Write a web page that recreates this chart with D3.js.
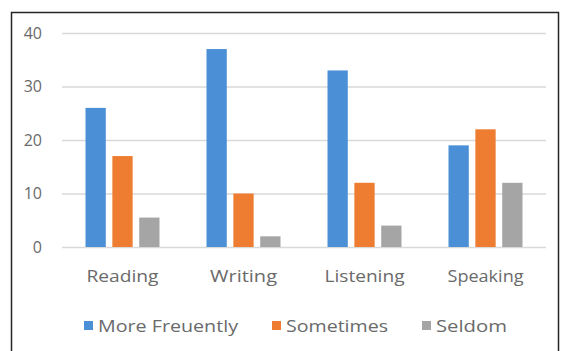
<!DOCTYPE html>
<html><head><meta charset="utf-8">
<script src="https://cdn.jsdelivr.net/npm/d3@7"></script>
<style>
html,body{margin:0;padding:0;background:#fff;}
svg{display:block;}
text{font-family:"Open Sans",Lato,sans-serif;fill:#6a6a6a;}
</style></head>
<body>
<script>
const categories = ["Reading","Writing","Listening","Speaking"];
const seriesNames = ["More Freuently","Sometimes","Seldom"];
const moreFrequently = [26,37,33,19];
const sometimes = [17,10,12,22];
const seldom = [5.5,2,4,12];
const yTicks = [0,10,20,30,40];
const colors = ["#4b8fd6","#ee7d31","#a5a5a5"];

const W=562,H=351;
const svg=d3.select("body").append("svg").attr("width",W).attr("height",H);
svg.append("rect").attr("width",W).attr("height",H).attr("fill","#fff");
// frame (no bottom border)
svg.append("path").attr("d","M11.5,351 V12.5 H558.5 V351").attr("fill","none").attr("stroke","#262626").attr("stroke-width",1.5);

const x0=d3.scaleBand().domain(categories).range([62,546]).padding(0);
const gw=74;
const x1=d3.scaleBand().domain(seriesNames).range([(x0.bandwidth()-gw)/2,(x0.bandwidth()+gw)/2]).paddingInner(0.245).paddingOuter(0);
const y=d3.scaleLinear().domain([0,40]).range([247,33]);

// grid
const yAxis=d3.axisLeft(y).tickValues(yTicks).tickSize(-(546-62)).tickPadding(20).tickFormat(d3.format("d"));
const ga=svg.append("g").attr("transform","translate(62,0)").call(yAxis);
ga.select(".domain").remove();
ga.selectAll(".tick line").attr("stroke","#d9d9d9").attr("stroke-width",1.3);
ga.selectAll(".tick text").attr("font-size",16).attr("fill","#6a6a6a").attr("x",-20).style("font-family","'Open Sans',sans-serif");

const values=[moreFrequently,sometimes,seldom];
const data=categories.map((c,i)=>({cat:c,vals:seriesNames.map((s,j)=>({s,v:values[j][i],c:colors[j]}))}));
const g=svg.selectAll("g.cat").data(data).enter().append("g").attr("class","cat").attr("transform",d=>`translate(${x0(d.cat)},0)`);
g.selectAll("rect").data(d=>d.vals).enter().append("rect")
 .attr("x",d=>x1(d.s)).attr("width",x1.bandwidth())
 .attr("y",d=>y(d.v)).attr("height",d=>y(0)-y(d.v)).attr("fill",d=>d.c);

// category labels
const catWidths={"Reading":72,"Writing":67,"Listening":80,"Speaking":76};
const xAxis=d3.axisBottom(x0).tickSize(0).tickPadding(0);
const gx=svg.append("g").attr("transform","translate(0,272)").call(xAxis);
gx.select(".domain").remove();
gx.selectAll(".tick text").attr("font-size",16).attr("dy","0.6em").attr("fill","#6a6a6a")
  .attr("textLength",d=>catWidths[d]).attr("lengthAdjust","spacingAndGlyphs").style("font-family","'Open Sans',sans-serif");

// legend
const legX=[84,272,422];
const legW=[140,102,71];
const lg=svg.selectAll("g.leg").data(seriesNames).enter().append("g").attr("class","leg")
 .attr("transform",(d,i)=>`translate(${legX[i]},326)`);
lg.append("rect").attr("x",0).attr("y",-5).attr("width",9).attr("height",9).attr("fill",(d,i)=>colors[i]);
lg.append("text").attr("x",14).attr("y",0).attr("dy","0.35em").attr("font-size",16).attr("fill","#6a6a6a")
 .attr("textLength",(d,i)=>legW[i]).attr("lengthAdjust","spacingAndGlyphs").text(d=>d);
</script>
</body></html>
